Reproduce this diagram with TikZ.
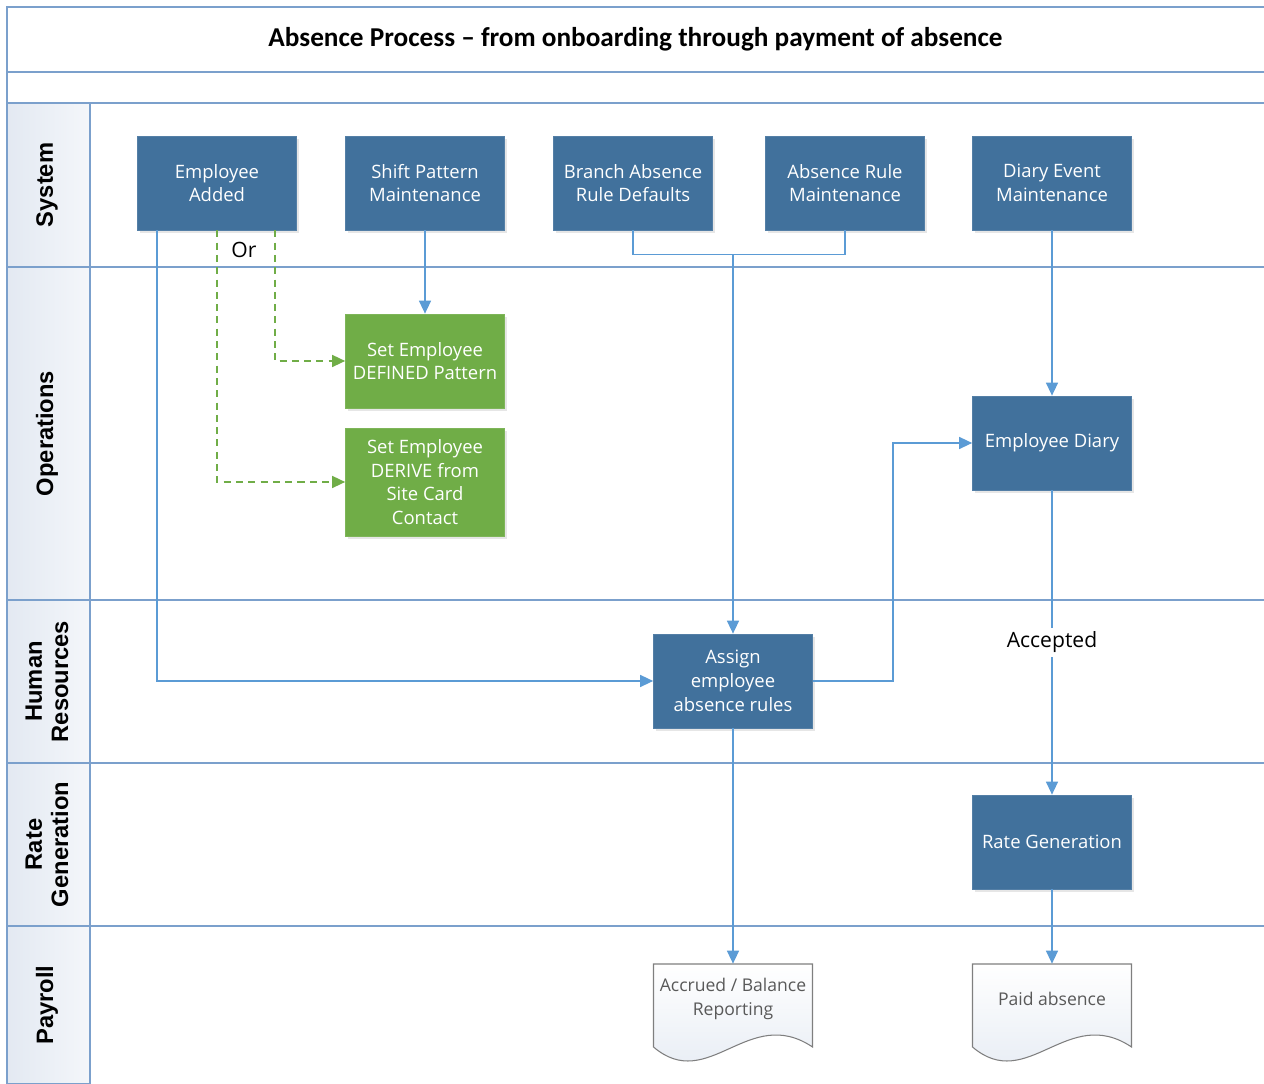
\documentclass[tikz,border=0pt]{standalone}
\usepackage{fontspec}
\setmainfont{Open Sans}
\newfontfamily\titlefont{Carlito}
\newfontfamily\lanefont{Liberation Sans}
\usetikzlibrary{arrows.meta,positioning,calc,shadows}
\definecolor{boxblue}{HTML}{41719C}
\definecolor{boxgreen}{HTML}{70AD47}
\definecolor{flowblue}{HTML}{5B9BD5}
\definecolor{laneline}{HTML}{7BA0CC}
\definecolor{lanefill}{HTML}{E3E9F2}
\definecolor{docgray}{HTML}{7F7F7F}
\tikzset{
  >={Triangle[length=2.6mm,width=2.4mm]},
  % banor
  lane/.style={draw=laneline,line width=1.1pt},
  lanehead/.style={draw=laneline,line width=1.1pt,left color=lanefill,
             right color=lanefill!40!white},
  lanelabel/.style={font=\lanefont\bfseries\fontsize{13.5}{15}\selectfont,
             rotate=90,align=center},
  titlenode/.style={font=\titlefont\bfseries\fontsize{15.5}{18}\selectfont},
  % rutor
  sysbox/.style={rectangle,fill=boxblue,draw=boxblue!90!white,text=white,
             minimum width=3.18cm,minimum height=1.88cm,align=center,
             font=\fontsize{10.5}{13.5}\selectfont,inner sep=2pt,
             drop shadow={opacity=0.2,shadow xshift=1.5pt,shadow yshift=-1.5pt}},
  opbox/.style={sysbox,fill=boxgreen,draw=boxgreen!90!white},
  docbox/.style={rectangle,minimum width=3.18cm,minimum height=1.4cm,
             align=center,text=black!65,font=\fontsize{10}{13.5}\selectfont},
  docline/.style={draw=docgray,line width=0.6pt,top color=white,
             bottom color=lanefill},
  % flöden
  fa/.style={->,draw=flowblue,line width=0.8pt},
  fl/.style={draw=flowblue,line width=0.8pt},
  fd/.style={->,draw=boxgreen,line width=0.9pt,dash pattern=on 4pt off 3pt},
  flab/.style={font=\fontsize{12}{14}\selectfont,inner sep=2pt},
}
% dokumentform: namn, mitt, text
\newcommand\docnode[3]{%
  \coordinate (#1-c) at (#2);
  \draw[docline] ($(#1-c)+(-1.59,0.70)$) -- ($(#1-c)+(1.59,0.70)$)
    -- ($(#1-c)+(1.59,-0.96)$)
    .. controls ($(#1-c)+(0.31,-0.10)$) and ($(#1-c)+(-0.49,-1.90)$)
    .. ($(#1-c)+(-1.59,-0.96)$) -- cycle;
  \node[docbox] (#1) at (#1-c) {#3};
}

\begin{document}
\begin{tikzpicture}
\useasboundingbox (0,0) rectangle (25.28,21.68);
  % ram och rubrik
  \draw[lane] (25.28,21.54) -- (0.14,21.54) -- (0.14,0);
  \draw[lane] (0.14,20.24) -- (25.28,20.24);
  \node[titlenode] (title) at (12.71,20.89) {Absence Process – from onboarding through payment of absence};
  \foreach \ytop/\ybot/\lname [count=\i] in {19.62/16.34/System,
      16.34/9.68/Operations, 9.68/6.42/{Human\\Resources},
      6.42/3.16/{Rate\\Generation}, 3.16/0/Payroll}{
    \draw[lanehead] (0.14,\ybot) rectangle (1.80,\ytop);
    \draw[lane] (1.80,\ytop) -- (25.28,\ytop);
    \node[lanelabel] (lane\i) at (0.94,{(\ytop+\ybot)/2}) {\lname};
  }
  % noder
  \node[sysbox] (emp) at (4.34,18.02) {Employee\\Added};
  \node[sysbox] (shift) at (8.50,18.02) {Shift Pattern\\Maintenance};
  \node[sysbox] (branch) at (12.66,18.02) {Branch Absence\\Rule Defaults};
  \node[sysbox] (rule) at (16.90,18.02) {Absence Rule\\Maintenance};
  \node[sysbox] (event) at (21.04,18.02) {Diary Event\\Maintenance};
  \node[opbox] (defined) at (8.50,14.46) {Set Employee\\DEFINED Pattern};
  \node[opbox,minimum height=2.16cm] (derive) at (8.50,12.04) {Set Employee\\DERIVE from\\Site Card\\Contact};
  \node[sysbox] (diary) at (21.04,12.82) {Employee Diary};
  \node[sysbox] (assign) at (14.66,8.06) {Assign\\employee\\absence rules};
  \node[sysbox] (rate) at (21.04,4.84) {Rate Generation};
  \docnode{accrued}{14.66,1.70}{Accrued / Balance\\Reporting}
  \docnode{paid}{21.04,1.70}{Paid absence}
  % kanter
  \draw[fa] ($(emp.south west)+(0.40,0)$) |- (assign.west);
  \draw[fd] (emp.south) |- (derive.west);
  \draw[fd] ($(emp.south east)+(-0.44,0)$) |- (defined.west);
  \node[flab] (or) at (4.88,16.68) {Or};
  \draw[fa] (shift) -- (defined);
  \coordinate (join) at ($(branch.south)+(0,-0.48)$);
  \draw[fl] (branch.south) -- (join) -| (rule.south);
  \draw[fa] (assign |- join) -- (assign);
  \draw[fa] (event) -- (diary);
  \draw[fa] (assign.east) -- ++(1.6,0) |- (diary.west);
  \draw[fa] (diary) -- node[flab,fill=white,pos=0.5] (acc) {Accepted} (rate);
  \draw[fa] (assign) -- (accrued);
  \draw[fa] (rate) -- (paid);
\end{tikzpicture}
\end{document}
